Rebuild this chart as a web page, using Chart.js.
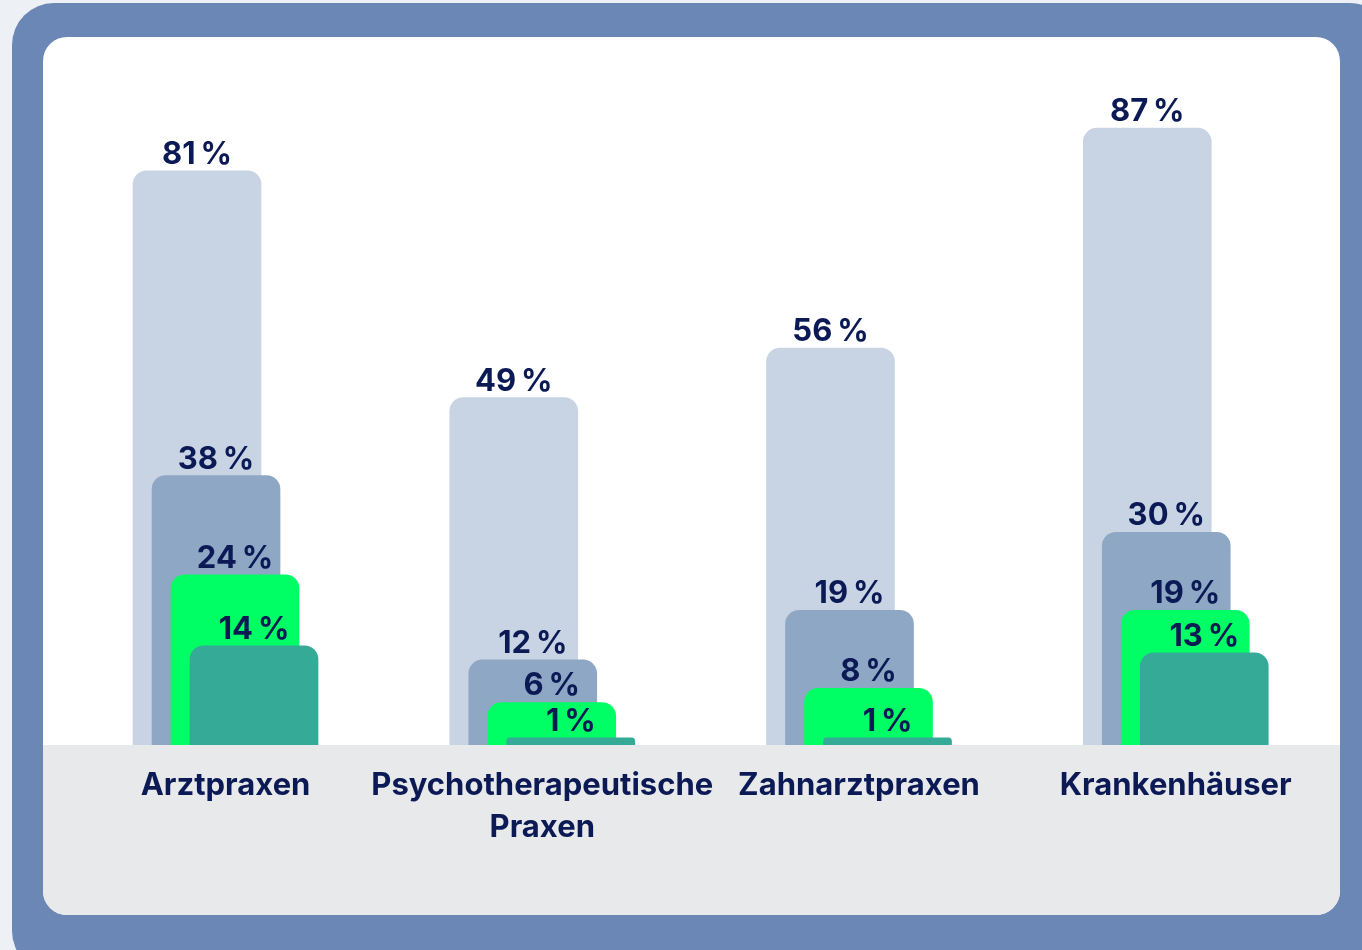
<!DOCTYPE html>
<html>
<head>
<meta charset="utf-8">
<script src="https://cdn.jsdelivr.net/npm/chart.js@4/dist/chart.umd.min.js"></script>
<style>
  html, body { margin: 0; padding: 0; }
  body { width: 1362px; height: 950px; overflow: hidden; background: #edf1f5; position: relative; }
  .frame { position: absolute; left: 12px; top: 3px; width: 1380px; height: 970px; background: #6a87b5; border-radius: 42px; }
  .panel { position: absolute; left: 43px; top: 37px; width: 1297px; height: 878px; background: #fff; border-radius: 24px; overflow: hidden; }
  .floor { position: absolute; left: 0; top: 708px; width: 100%; height: 170px; background: #e8e9eb; }
  #chart { position: absolute; left: 0; top: 0; }
</style>
</head>
<body>
<div class="frame"></div>
<div class="panel"><div class="floor"></div></div>
<canvas id="chart" width="1362" height="950"></canvas>
<script>
const categories = ['Arztpraxen', ['Psychotherapeutische', 'Praxen'], 'Zahnarztpraxen', 'Krankenhäuser'];
const seriesNames = ['Reihe 1', 'Reihe 2', 'Reihe 3', 'Reihe 4'];
const series1 = [81, 49, 56, 87];
const series2 = [38, 12, 19, 30];
const series3 = [24, 6, 8, 19];
const series4 = [14, 1, 1, 13];
const colors = ['#c8d4e3', '#8ea7c4', '#00ff64', '#35aa96'];

const allSeries = [series1, series2, series3, series4];
const step = 0.06;   // overlap offset between series, in category units
const textColor = '#0b1a55';
const fontFamily = 'Inter, "Noto Sans", sans-serif';

const datasets = allSeries.map((values, j) => ({
    label: seriesNames[j],
    data: values.map((v, i) => ({ x: i + j * step, y: v })),
    backgroundColor: colors[j],
    xAxisID: 'x' + j,
    order: allSeries.length - j,   // later series on top
    maxBarThickness: 128,
    barThickness: 128,
    grouped: false,
    borderRadius: { topLeft: 14, topRight: 14 },
    borderSkipped: 'start'
}));

const xMin = -0.622, xMax = 3.678;
const xScale = (shown) => {
    const s = {
        type: 'linear',
        display: shown,
        offset: false,
        min: xMin,
        max: xMax,
        grid: { display: false, drawTicks: false },
        border: { display: false },
        ticks: {
            autoSkip: false,
            maxRotation: 0,
            padding: 20,
            color: textColor,
            font: { family: fontFamily, size: 31, weight: 'bold', lineHeight: 1.35 },
            callback: (value, index) => categories[index]
        },
        afterBuildTicks: (scale) => {
            scale.ticks = categories.map((c, i) => ({ value: i + 1.5 * step }));
        }
    };
    if (shown) s.afterFit = (scale) => { scale.height = 205; };
    return s;
};

// value labels above every bar
const barLabels = {
    id: 'barLabels',
    afterDatasetsDraw(chart) {
        const ctx = chart.ctx;
        ctx.save();
        ctx.fillStyle = textColor;
        ctx.font = 'bold 31px ' + fontFamily;
        ctx.textAlign = 'center';
        ctx.textBaseline = 'alphabetic';
        chart.data.datasets.forEach((ds, j) => {
            chart.getDatasetMeta(j).data.forEach((bar, i) => {
                ctx.fillText(allSeries[j][i] + '\u202F%', bar.x, bar.y - 7);
            });
        });
        ctx.restore();
    }
};

new Chart(document.getElementById('chart'), {
    type: 'bar',
    data: { datasets: datasets },
    options: {
        responsive: false,
        devicePixelRatio: 1,
        animation: false,
        layout: { autoPadding: false, padding: { top: 36, left: 0, right: 0, bottom: 0 } },
        plugins: { legend: { display: false }, tooltip: { enabled: false } },
        scales: {
            x0: xScale(true),
            x1: xScale(false),
            x2: xScale(false),
            x3: xScale(false),
            y: { min: 0, max: 100, display: false }
        }
    },
    plugins: [barLabels]
});
</script>
</body>
</html>
